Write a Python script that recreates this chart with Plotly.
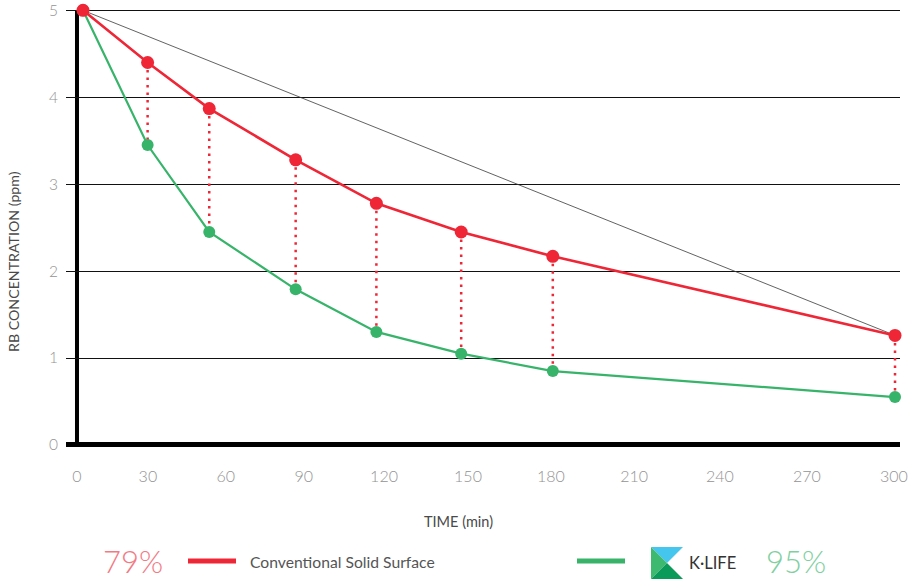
import plotly.graph_objects as go

# ---------------- data ----------------
time_min = [2.2, 25.9, 48.5, 80.2, 109.8, 140.9, 174.5, 300.0]
conventional = [5.00, 4.40, 3.87, 3.28, 2.78, 2.45, 2.17, 1.26]
klife = [5.00, 3.45, 2.45, 1.79, 1.30, 1.05, 0.85, 0.55]

x_tick_pos = [0, 26, 54.6, 83.2, 112.6, 143.4, 173.8, 204.3, 235.8, 267.7, 299.6]
x_tick_labels = ["0", "30", "60", "90", "120", "150", "180", "210", "240", "270", "300"]
y_ticks = [0, 1, 2, 3, 4, 5]

conv_pct = "79%"
klife_pct = "95%"
conv_name = "Conventional Solid Surface"

# ---------------- styling ----------------
W, H = 910, 579
L, R, T, B = 66, 10, 6, 128
RED = "#ee2636"
GREEN = "#37b46a"
FONT = "Lato"

def pxx(x):
    return (x - L) / (W - L - R)

def pxy(y):
    return (H - B - y) / (H - T - B)

fig = go.Figure()

# thin reference line from start to end of conventional series
fig.add_trace(go.Scatter(
    x=[time_min[0], time_min[-1]], y=[conventional[0], conventional[-1]],
    mode="lines", line=dict(color="#3a3a3a", width=0.8),
    hoverinfo="skip", showlegend=False))

# dotted connectors
for t, r, g in zip(time_min[1:], conventional[1:], klife[1:]):
    fig.add_trace(go.Scatter(
        x=[t, t], y=[r, g], mode="lines",
        line=dict(color=RED, width=2.5, dash="2.5px,5px"),
        hoverinfo="skip", showlegend=False))

fig.add_trace(go.Scatter(
    x=time_min, y=klife, mode="lines+markers", name="K·LIFE",
    line=dict(color=GREEN, width=2.2), marker=dict(color=GREEN, size=12),
    cliponaxis=False, showlegend=False))

fig.add_trace(go.Scatter(
    x=time_min, y=conventional, mode="lines+markers", name=conv_name,
    line=dict(color=RED, width=2.6), marker=dict(color=RED, size=13),
    cliponaxis=False, showlegend=False))

fig.update_xaxes(
    range=[-4.03, 301.83], showgrid=False, automargin=False,
    zeroline=False,
    tickmode="array", tickvals=x_tick_pos, ticktext=x_tick_labels,
    tickfont=dict(family=FONT, size=16, color="#939393", weight=300),
    ticks="", ticklabelstandoff=14, showline=False, ticklabeloverflow="allow")

fig.update_yaxes(
    range=[-0.07, 5.05], showgrid=True, gridcolor="#111111", gridwidth=1,
    automargin=False,
    zeroline=True, zerolinecolor="#000000", zerolinewidth=5,
    tickmode="array", tickvals=y_ticks,
    tickfont=dict(family=FONT, size=15.5, color="#939393", weight=300),
    ticks="", ticklabelstandoff=7, showline=False, ticklabeloverflow="allow")

def txt(s, x, y, size, color, xanchor="center", angle=0, weight=None):
    f = dict(family=FONT, size=size, color=color)
    if weight:
        f["weight"] = weight
    return dict(text=s, x=pxx(x), y=pxy(y), xref="paper", yref="paper",
                xanchor=xanchor, yanchor="middle", showarrow=False,
                textangle=angle, font=f)

ann = [
    txt("TIME (min)", 458, 521, 14.5, "#4a4a4a"),
    txt("RB CONCENTRATION (ppm)", 13, 262, 14.2, "#4a4a4a", angle=-90),
    txt(conv_pct, 133, 561, 31, "#f27a84", weight=300),
    txt(conv_name, 248, 562, 15.7, "#555555", xanchor="left"),
    txt("K·LIFE", 687, 563, 16.5, "#333333", xanchor="left"),
    txt(klife_pct, 796, 561, 31, "#7fd09f", weight=300),
]

shapes = []
# vertical axis line at time 0
shapes.append(dict(type="line", xref="x", yref="y", x0=0, x1=0, y0=-0.02, y1=5.0,
                   line=dict(color="#000000", width=4), layer="below"))
shapes.append(dict(type="line", xref="paper", yref="paper",
                   x0=pxx(188), x1=pxx(236), y0=pxy(561), y1=pxy(561),
                   line=dict(color=RED, width=5)))
shapes.append(dict(type="line", xref="paper", yref="paper",
                   x0=pxx(577), x1=pxx(625), y0=pxy(561), y1=pxy(561),
                   line=dict(color=GREEN, width=5)))

def tri(pts, color):
    d = "M " + " L ".join(f"{pxx(a):.5f},{pxy(b):.5f}" for a, b in pts) + " Z"
    return dict(type="path", xref="paper", yref="paper", path=d,
                fillcolor=color, line=dict(width=0))

shapes.append(tri([(651, 547), (683, 547), (667, 563)], "#45c6ef"))
shapes.append(tri([(651, 547), (667, 563), (651, 579)], "#3db970"))
shapes.append(tri([(651, 579), (667, 563), (683, 579)], "#0c9a5a"))

fig.update_layout(
    width=W, height=H, margin=dict(l=L, r=R, t=T, b=B, autoexpand=False),
    paper_bgcolor="white", plot_bgcolor="white",
    annotations=ann, shapes=shapes, showlegend=False)

fig.write_html("out.html", config={"displayModeBar": False},
               post_script="document.body.style.margin='0';")
